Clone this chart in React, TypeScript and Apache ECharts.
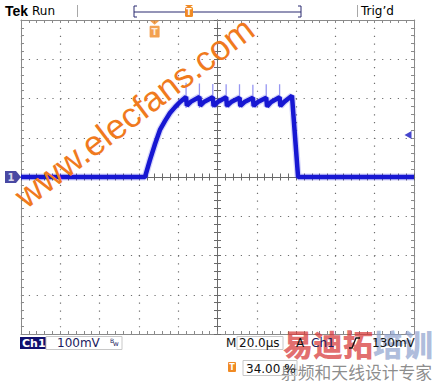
import React, { useEffect, useRef } from "react";
import * as echarts from "echarts";

// ---- data (time in µs, voltage in mV, 100 mV/div, 20 µs/div) ----
const timeUs = [0, 63.1, 65.6, 68.2, 70.7, 73.3, 75.8, 78.4, 80.9, 84.0, 84.4, 86.5, 90.8, 91.2, 93.3, 97.6, 98.0, 100.1, 104.4, 104.8, 106.9, 111.2, 111.6, 113.7, 118.0, 118.4, 120.5, 124.8, 125.2, 127.3, 131.6, 132.0, 134.1, 137.9, 141.0, 200];
const traceMv = [0, 0, 43, 84, 120, 143, 163, 178, 191, 204, 182, 192, 204, 182, 192, 203, 181, 191, 203, 181, 191, 202, 181, 191, 202, 181, 191, 202, 180, 191, 203, 181, 192, 207, 0, 0];
const spikeTimesUs = [84.0, 90.8, 97.6, 104.4, 111.2, 118.0, 124.8, 131.6];
const spikeLowMv = [176, 176, 176, 176, 176, 176, 176, 176];
const spikeHighMv = [240, 238, 237, 236, 236, 235, 236, 236];
const channelGroundMv = 0;
const triggerLevelMv = 107;
const triggerTimeUs = 68;
const timeRange = [0, 200];
const voltRange = [-400, 400];
const timePerDiv = 20;
const voltPerDiv = 100;

const FONT = "DejaVu Sans";
const AX = "#8a8a8a";

export default function App() {
  const ref = useRef<HTMLDivElement>(null);
  useEffect(() => {
    if (!ref.current) return;
    const chart = echarts.init(ref.current, undefined, { renderer: "svg" });

    const trace = timeUs.map((t, i) => [t, traceMv[i]]);
    const spikes: any[] = [];
    spikeTimesUs.forEach((t, i) => {
      spikes.push([t, spikeLowMv[i]], [t, spikeHighMv[i]], [t, null]);
    });

    const baseX = (extra: any) => ({
      type: "value",
      min: timeRange[0],
      max: timeRange[1],
      interval: timePerDiv,
      axisLabel: { show: false },
      splitLine: { show: false },
      ...extra,
    });
    const baseY = (extra: any) => ({
      type: "value",
      min: voltRange[0],
      max: voltRange[1],
      interval: voltPerDiv,
      axisLabel: { show: false },
      splitLine: { show: false },
      ...extra,
    });
    const tick = (inside: boolean, color: string, len = 3) => ({ show: true, inside, length: len, lineStyle: { color, width: 1 } });
    const minor = (color: string, len = 3) => ({ show: true, splitNumber: 5, length: len, lineStyle: { color, width: 1 } });
    const dotted = { show: true, lineStyle: { color: "#6e6e6e", width: 1.2, type: [1.2, 6.65], dashOffset: 0 } };
    const CH = "#6a6a6a";

    const option: any = {
      animation: false,
      backgroundColor: "#ffffff",
      grid: { left: 21, top: 20, width: 393, height: 314 },
      xAxis: [
        baseX({ position: "bottom", axisLine: { show: true, onZero: false, lineStyle: { color: AX } }, axisTick: tick(true, AX), minorTick: minor(AX), splitLine: dotted }),
        baseX({ position: "top", axisLine: { show: true, onZero: false, lineStyle: { color: AX } }, axisTick: tick(true, AX), minorTick: minor(AX) }),
        baseX({ position: "bottom", axisLine: { show: true, onZero: true, onZeroAxisIndex: 0, lineStyle: { color: CH } }, axisTick: tick(true, CH, 3.5), minorTick: minor(CH, 3.5) }),
        baseX({ position: "bottom", axisLine: { show: true, onZero: true, onZeroAxisIndex: 0, lineStyle: { color: CH } }, axisTick: tick(false, CH, 3.5), minorTick: minor(CH, 3.5) }),
      ],
      yAxis: [
        baseY({ position: "left", axisLine: { show: true, onZero: false, lineStyle: { color: AX } }, axisTick: tick(true, AX), minorTick: minor(AX), splitLine: dotted }),
        baseY({ position: "right", axisLine: { show: true, onZero: false, lineStyle: { color: AX } }, axisTick: tick(true, AX), minorTick: minor(AX) }),
        baseY({ position: "left", offset: -196.5, axisLine: { show: true, onZero: false, lineStyle: { color: CH } }, axisTick: tick(true, CH, 3.5), minorTick: minor(CH, 3.5) }),
        baseY({ position: "left", offset: -196.5, axisLine: { show: true, onZero: false, lineStyle: { color: CH } }, axisTick: tick(false, CH, 3.5), minorTick: minor(CH, 3.5) }),
      ],
      series: [
        {
          type: "line", data: trace, symbol: "none", silent: true,
          lineStyle: { color: "rgba(60,60,230,0.22)", width: 7 }, z: 3,
        },
        {
          type: "line", data: trace, symbol: "none", silent: true,
          lineStyle: { color: "#1717d2", width: 4.5 }, z: 4,
        },
        {
          type: "line", data: spikes, symbol: "none", silent: true, connectNulls: false,
          lineStyle: { color: "rgba(80,80,235,0.6)", width: 1.3 }, z: 3,
        },
        {
          type: "scatter", data: [[timeRange[0], channelGroundMv]], clip: false, silent: true, z: 6,
          symbol: "path://M0,0 L11,0 L16,6 L11,12 L0,12 Z", symbolSize: [16, 12], symbolOffset: [-8, 0],
          itemStyle: { color: "#1c1c8c" },
          label: { show: true, formatter: "1", position: "inside", offset: [-2, 0], color: "#fff", fontSize: 10, fontWeight: "bold", fontFamily: FONT },
        },
        {
          type: "scatter", data: [[timeRange[1], triggerLevelMv]], clip: false, silent: true, z: 6,
          symbol: "triangle", symbolRotate: 90, symbolSize: [8, 7], symbolOffset: [-6, 0],
          itemStyle: { color: "#1818c0" },
        },
        {
          type: "scatter", data: [[triggerTimeUs, voltRange[1]]], clip: false, silent: true, z: 6,
          symbol: "path://M0,0 L10,0 L5,4 Z M1,5 L9,5 C9.6,5 10,5.4 10,6 L10,15 C10,15.6 9.6,16 9,16 L1,16 C0.4,16 0,15.6 0,15 L0,6 C0,5.4 0.4,5 1,5 Z",
          symbolSize: [10, 17], symbolOffset: [0, 9],
          itemStyle: { color: "#f08a24" },
          label: { show: true, formatter: "T", position: "inside", offset: [0, 3], color: "#fff", fontSize: 9, fontWeight: "bold", fontFamily: FONT },
        },
      ],
      graphic: [
        // header
        { type: "text", left: 5, top: 4, style: { text: "Tek", font: "bold 14px 'Liberation Sans'", fill: "#000" } },
        { type: "text", left: 32, top: 5, style: { text: "Run", font: `12px '${FONT}'`, fill: "#000" } },
        { type: "line", shape: { x1: 77.5, y1: 5, x2: 77.5, y2: 17 }, style: { stroke: "#a8a8a8", lineWidth: 1 } },
        { type: "polyline", shape: { points: [[137, 6], [134, 6], [134, 17], [137, 17]] }, style: { stroke: "#2a2a70", lineWidth: 1, fill: null } },
        { type: "line", shape: { x1: 134, y1: 12, x2: 301, y2: 12 }, style: { stroke: "#2a2a70", lineWidth: 1.2 } },
        { type: "polyline", shape: { points: [[298, 6], [301, 6], [301, 17], [298, 17]] }, style: { stroke: "#2a2a70", lineWidth: 1, fill: null } },
        { type: "rect", shape: { x: 185, y: 7, width: 8, height: 10, r: 1.5 }, style: { fill: "#f08a24" } },
        { type: "polygon", shape: { points: [[185, 5], [193, 5], [189, 8]] }, style: { fill: "#f08a24" } },
        { type: "text", x: 189, y: 12.5, style: { text: "T", font: `bold 8px '${FONT}'`, fill: "#fff", align: "center", verticalAlign: "middle" } },
        { type: "line", shape: { x1: 357.5, y1: 5, x2: 357.5, y2: 17 }, style: { stroke: "#a8a8a8", lineWidth: 1 } },
        { type: "text", left: 361, top: 5, style: { text: "Trig\u2019d", font: `12px '${FONT}'`, fill: "#000" } },

        // CJK watermark (under the readouts)
        { type: "text", x: 283, y: 343, z: 1, style: { text: "易迪拓", font: "900 30px 'Noto Sans CJK SC'", fill: "rgba(215,55,55,0.72)", verticalAlign: "middle" } },
        { type: "text", x: 373, y: 343, z: 1, style: { text: "培训", font: "900 30px 'Noto Sans CJK SC'", fill: "rgba(140,160,205,0.7)", verticalAlign: "middle" } },
        { type: "text", x: 281, y: 372, z: 1, style: { text: "射频和天线设计专家", font: "16.8px 'Noto Sans CJK SC'", fill: "rgba(120,120,120,0.85)", verticalAlign: "middle" } },

        // bottom readouts
        { type: "rect", z: 2, shape: { x: 20, y: 337, width: 26, height: 12 }, style: { fill: "#10106e" } },
        { type: "text", z: 2, x: 22, y: 343, style: { text: "Ch1", font: `bold 11px '${FONT}'`, fill: "#fff", verticalAlign: "middle" } },
        { type: "rect", z: 2, shape: { x: 46, y: 336.5, width: 76, height: 13 }, style: { fill: null, stroke: "#c8c8c8", lineWidth: 1 } },
        { type: "text", z: 2, x: 57, y: 343, style: { text: "100mV", font: `12px '${FONT}'`, fill: "#1a1a60", verticalAlign: "middle" } },
        { type: "text", z: 2, x: 110, y: 340, style: { text: "B", font: `6px '${FONT}'`, fill: "#1a1a60", verticalAlign: "middle" } },
        { type: "text", z: 2, x: 113, y: 344, style: { text: "w", font: `7px '${FONT}'`, fill: "#1a1a60", verticalAlign: "middle" } },
        { type: "text", z: 2, x: 226, y: 343, style: { text: "M", font: `12px '${FONT}'`, fill: "#111", verticalAlign: "middle" } },
        { type: "rect", z: 2, shape: { x: 237, y: 336.5, width: 46, height: 13 }, style: { fill: null, stroke: "#c8c8c8", lineWidth: 1 } },
        { type: "text", z: 2, x: 239, y: 343, style: { text: "20.0µs", font: `12px '${FONT}'`, fill: "#111", verticalAlign: "middle" } },
        { type: "text", z: 2, x: 296, y: 343, style: { text: "A", font: `12px '${FONT}'`, fill: "#111", verticalAlign: "middle" } },
        { type: "text", z: 2, x: 311, y: 343, style: { text: "Ch1", font: `12px '${FONT}'`, fill: "#1a1a60", verticalAlign: "middle" } },
        { type: "polyline", z: 2, shape: { points: [[349, 348], [352, 348], [356, 338], [360, 338]] }, style: { stroke: "#111", lineWidth: 1.3, fill: null } },
        { type: "text", z: 2, x: 372, y: 343, style: { text: "130mV", font: `12px '${FONT}'`, fill: "#111", verticalAlign: "middle" } },
        { type: "rect", z: 2, shape: { x: 228, y: 362, width: 8, height: 10, r: 1 }, style: { fill: "#f08a24" } },
        { type: "text", z: 2, x: 232, y: 367.5, style: { text: "T", font: `bold 8px '${FONT}'`, fill: "#fff", align: "center", verticalAlign: "middle" } },
        { type: "rect", z: 2, shape: { x: 243, y: 360.5, width: 54, height: 15 }, style: { fill: null, stroke: "#c8c8c8", lineWidth: 1 } },
        { type: "text", z: 2, x: 246, y: 369, style: { text: "34.00 %", font: `12px '${FONT}'`, fill: "#111", verticalAlign: "middle" } },

        // orange site watermark over the plot
        { type: "text", x: 134, y: 112, rotation: 0.65, z: 50, style: { text: "www.elecfans.com", font: "35px 'Liberation Sans'", fill: "#f07a1e", align: "center", verticalAlign: "middle" } },
      ],
    };
    chart.setOption(option);
    return () => chart.dispose();
  }, []);
  return <div ref={ref} style={{ position: "fixed", left: 0, top: 0, width: 435, height: 384 }} />;
}
